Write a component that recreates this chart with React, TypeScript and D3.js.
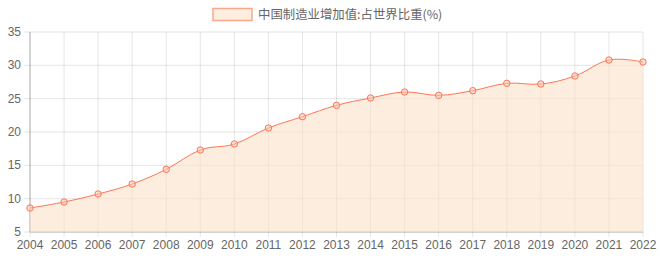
import React from "react";
import * as d3 from "d3";

const years = ["2004","2005","2006","2007","2008","2009","2010","2011","2012","2013","2014","2015","2016","2017","2018","2019","2020","2021","2022"];
const shares = [8.6, 9.5, 10.7, 12.2, 14.4, 17.3, 18.2, 20.6, 22.3, 24.0, 25.1, 26.0, 25.5, 26.2, 27.3, 27.2, 28.4, 30.8, 30.5];
const yTicks = [5, 10, 15, 20, 25, 30, 35];
const legendLabel = "中国制造业增加值:占世界比重(%)";

const W = 660, H = 260;
const left = 30, right = 643, top = 32, bottom = 232;
const font = "'Liberation Sans', Arial, 'Noto Sans CJK SC', sans-serif";
const lineColor = "#fd7656";
const fillColor = "rgba(250,225,200,0.6)";

export default function App() {
  const x = d3.scalePoint<string>().domain(years).range([left, right]);
  const y = d3.scaleLinear().domain([5, 35]).range([bottom, top]);
  const pts: [number, number][] = years.map((yr, i) => [x(yr)!, y(shares[i])]);
  const curve = d3.curveCardinal.tension(-0.1);
  const line = d3.line().curve(curve)(pts)!;
  const area = d3.area().curve(curve).y0(bottom)(pts)!;

  return (
    <svg width={W} height={H} style={{ position: "absolute", left: 0, top: 0, fontFamily: font }}>
      <rect x={0} y={0} width={W} height={H} fill="#fff" />
      {yTicks.map((t) => (
        <g key={t}>
          <line x1={left - 6} x2={right} y1={y(t)} y2={y(t)} stroke="rgba(0,0,0,0.1)" />
          <text x={left - 9} y={y(t) + 4} textAnchor="end" fontSize={12} fill="#666">{t}</text>
        </g>
      ))}
      {years.map((yr) => (
        <g key={yr}>
          <line x1={x(yr)} x2={x(yr)} y1={top} y2={bottom + 5} stroke="rgba(0,0,0,0.1)" />
          <text x={x(yr)} y={bottom + 17} textAnchor="middle" fontSize={12} fill="#666">{yr}</text>
        </g>
      ))}
      <line x1={left} x2={left} y1={top} y2={bottom} stroke="rgba(0,0,0,0.25)" />
      <line x1={left} x2={right} y1={bottom} y2={bottom} stroke="rgba(0,0,0,0.25)" />
      <path d={area} fill={fillColor} />
      <path d={line} fill="none" stroke={lineColor} strokeWidth={1} />
      {pts.map((p, i) => (
        <circle key={i} cx={p[0]} cy={p[1]} r={3.2} fill="rgba(250,200,180,0.5)" stroke={lineColor} strokeWidth={1} />
      ))}
      <rect x={213} y={8.5} width={39} height={12} fill="rgb(253,238,224)" stroke="rgb(249,168,140)" strokeWidth={1.5} />
      <text x={258} y={19} fontSize={12.4} fill="#666" fontFamily="'Noto Sans CJK SC', sans-serif">{legendLabel}</text>
    </svg>
  );
}
